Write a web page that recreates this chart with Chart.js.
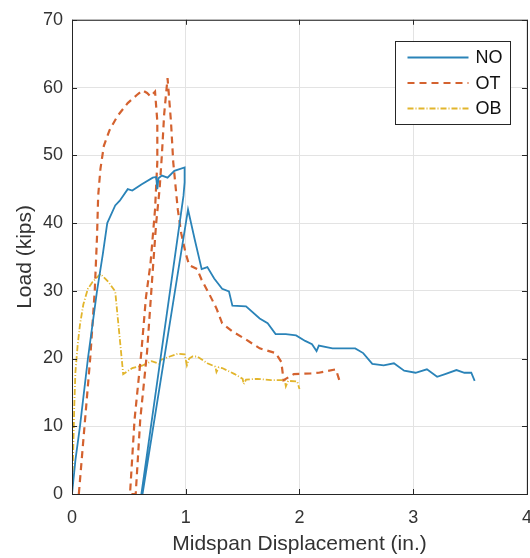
<!DOCTYPE html>
<html>
<head>
<meta charset="utf-8">
<script src="https://cdn.jsdelivr.net/npm/chart.js@4.4.1/dist/chart.umd.min.js"></script>
<style>
  html, body { margin: 0; padding: 0; background: #fff; overflow: hidden; }
  #wrap { position: relative; width: 545px; height: 558px; }
</style>
</head>
<body>
<div id="wrap"><canvas id="myChart"></canvas></div>
<script>
// series (displacement in., load kips)
var noX = [0, 0.03, 0.07, 0.14, 0.22, 0.27, 0.31, 0.38, 0.42, 0.49, 0.53, 0.61, 0.71, 0.74, 0.75, 0.76, 0.79, 0.84, 0.9, 0.99, 0.99, 0.98, 0.61,
  0.62, 1.02, 1.08, 1.14, 1.19, 1.25, 1.32, 1.38, 1.41, 1.53, 1.65, 1.72, 1.79, 1.88, 1.97, 2.05, 2.11, 2.15, 2.17, 2.29, 2.35, 2.49,
  2.56, 2.64, 2.74, 2.83, 2.92, 3.02, 3.12, 3.21, 3.28, 3.38, 3.45, 3.51, 3.54];
var noY = [0, 5, 10, 20, 30, 35.3, 40, 42.6, 43.3, 45, 44.8, 45.7, 46.7, 46.8, 45.0, 46.6, 47, 46.7, 47.7, 48.2, 46, 44, 0,
  0, 42, 37.5, 33.2, 33.5, 31.8, 30.3, 29.9, 27.8, 27.7, 25.9, 25.2, 23.6, 23.6, 23.4, 22.6, 22.1, 21.1, 21.9, 21.5, 21.5, 21.5,
  20.8, 19.2, 19.0, 19.3, 18.2, 17.9, 18.4, 17.3, 17.7, 18.3, 17.9, 17.9, 16.7];

var otX = [0.06, 0.11, 0.16, 0.2, 0.22, 0.23, 0.25, 0.28, 0.33, 0.4, 0.49, 0.57, 0.62, 0.66, 0.69, 0.73,
  0.75, 0.75, 0.73, 0.69, 0.65, 0.61, 0.55, 0.51,
  0.56, 0.6, 0.66, 0.71, 0.74, 0.77, 0.79, 0.81, 0.84,
  0.87, 0.89, 0.93, 0.96, 1.0, 1.03, 1.1, 1.14, 1.21, 1.27, 1.32, 1.41, 1.53, 1.65, 1.79, 1.84, 1.86, 1.95, 2.1, 2.17, 2.32, 2.35];
var otY = [0, 10, 20, 30, 38, 44, 48, 51.4, 53.7, 55.8, 57.7, 58.9, 59.6, 59.2, 58.7, 59.4,
  55, 49, 42, 34, 29, 21, 11, 0,
  0, 11, 21, 33, 40, 45, 50, 56, 61.4,
  55, 49, 42, 38.5, 35.5, 33.8, 33.2, 31.6, 29.4, 27.4, 25.2, 24, 22.8, 21.5, 20.8, 19.5, 16.8, 17.7, 17.8, 17.9, 18.4, 16.8];

var obX = [0, 0.01, 0.02, 0.03, 0.05, 0.07, 0.1, 0.14, 0.18, 0.25, 0.32, 0.38, 0.45, 0.53, 0.61, 0.7, 0.77, 0.78, 0.86, 0.93, 0.99,
  1.01, 1.03, 1.06, 1.1, 1.19, 1.26, 1.27, 1.29, 1.32, 1.43, 1.5, 1.51, 1.53, 1.63, 1.75, 1.87, 1.88, 1.9, 1.98, 2.0];
var obY = [0, 6, 13, 18, 22, 25, 28, 30.3, 31.3, 32.5, 31.3, 29.9, 17.7, 18.6, 18.9, 19.6, 19.2, 19.8, 20.3, 20.7, 20.6,
  19.0, 20.0, 20.3, 20.3, 19.3, 18.8, 18.0, 18.7, 18.6, 17.7, 17.0, 16.2, 16.9, 17.0, 16.8, 16.8, 15.9, 16.7, 16.6, 15.5];

var xTicks = [0, 1, 2, 3, 4];
var yTicks = [0, 10, 20, 30, 40, 50, 60, 70];

function pts(xs, ys) {
  var out = [];
  for (let i = 0; i < xs.length; i++) out.push({x: xs[i], y: ys[i]});
  return out;
}

var txtColor = '#333333';
var fontFam = "'Liberation Sans', Arial, Helvetica, sans-serif";

// box round the plot, inside ticks on all sides, and the legend box
var matlabBox = {
  id: 'matlabBox',
  afterDatasetsDraw(chart) {
    var ctx = chart.ctx, a = chart.chartArea;
    var xs = chart.scales.x, ys = chart.scales.y;
    ctx.save();
    ctx.strokeStyle = '#262626';
    ctx.lineWidth = 1;
    ctx.strokeRect(a.left + 0.5, a.top + 0.5, a.right - a.left, a.bottom - a.top);
    ctx.beginPath();
    xTicks.forEach(v => {
      var p = Math.round(xs.getPixelForValue(v)) + 0.5;
      ctx.moveTo(p, a.bottom); ctx.lineTo(p, a.bottom - 5);
      ctx.moveTo(p, a.top); ctx.lineTo(p, a.top + 5);
    });
    yTicks.forEach(v => {
      var p = Math.round(ys.getPixelForValue(v)) + 0.5;
      ctx.moveTo(a.left, p); ctx.lineTo(a.left + 5, p);
      ctx.moveTo(a.right, p); ctx.lineTo(a.right - 5, p);
    });
    ctx.stroke();

    // legend
    var bw = 115, bh = 83;
    var bx = Math.round(a.right - 17 - bw) + 0.5, by = Math.round(a.top + 21) + 0.5;
    ctx.fillStyle = '#fff';
    ctx.fillRect(bx, by, bw, bh);
    ctx.strokeStyle = '#262626';
    ctx.strokeRect(bx, by, bw, bh);
    ctx.font = '18px ' + fontFam;
    ctx.textBaseline = 'middle';
    chart.data.datasets.forEach((ds, i) => {
      var ry = by + 16 + i * 25.5;
      ctx.beginPath();
      ctx.strokeStyle = ds.borderColor;
      ctx.lineWidth = ds.borderWidth;
      ctx.setLineDash(ds.borderDash || []);
      ctx.moveTo(bx + 12, ry); ctx.lineTo(bx + 73, ry);
      ctx.stroke();
      ctx.setLineDash([]);
      ctx.fillStyle = '#111';
      ctx.fillText(ds.label, bx + 80, ry + 1);
    });
    ctx.restore();
  }
};

var config = {
  type: 'scatter',
  data: {
    datasets: [
      {
        label: 'NO',
        data: pts(noX, noY),
        showLine: true,
        borderColor: '#2a83b8',
        borderWidth: 1.8,
        pointRadius: 0
      },
      {
        label: 'OT',
        data: pts(otX, otY),
        showLine: true,
        borderColor: '#d4622f',
        borderWidth: 2.2,
        borderDash: [7, 5],
        pointRadius: 0
      },
      {
        label: 'OB',
        data: pts(obX, obY),
        showLine: true,
        borderColor: '#e2b52c',
        borderWidth: 1.8,
        borderDash: [6, 2, 1, 2],
        pointRadius: 0
      }
    ]
  },
  options: {
    responsive: true,
    maintainAspectRatio: false,
    animation: false,
    layout: { padding: { top: 16, right: 17, left: 0, bottom: 0 } },
    plugins: {
      legend: { display: false },
      tooltip: { enabled: false }
    },
    scales: {
      x: {
        type: 'linear',
        min: 0,
        max: 4,
        afterBuildTicks: s => { s.ticks = xTicks.map(v => ({value: v})); },
        afterFit: s => { s.height = 64; },
        grid: { color: '#e3e3e3', drawTicks: false },
        border: { display: false },
        ticks: { color: txtColor, font: { size: 18, family: fontFam }, padding: 13, maxRotation: 0 },
        title: {
          display: true,
          text: 'Midspan Displacement (in.)',
          color: txtColor,
          font: { size: 21, family: fontFam },
          padding: { top: 0, bottom: 1 }
        }
      },
      y: {
        type: 'linear',
        min: 0,
        max: 70,
        afterBuildTicks: s => { s.ticks = yTicks.map(v => ({value: v})); },
        afterFit: s => { s.width = 72; },
        grid: { color: '#e3e3e3', drawTicks: false },
        border: { display: false },
        ticks: { color: txtColor, font: { size: 18, family: fontFam }, padding: 9 },
        title: {
          display: true,
          text: 'Load (kips)',
          color: txtColor,
          font: { size: 21, family: fontFam },
          padding: { top: 13, bottom: 0 }
        }
      }
    }
  },
  plugins: [matlabBox]
};

var myChart = new Chart(document.getElementById('myChart'), config);
</script>
</body>
</html>
